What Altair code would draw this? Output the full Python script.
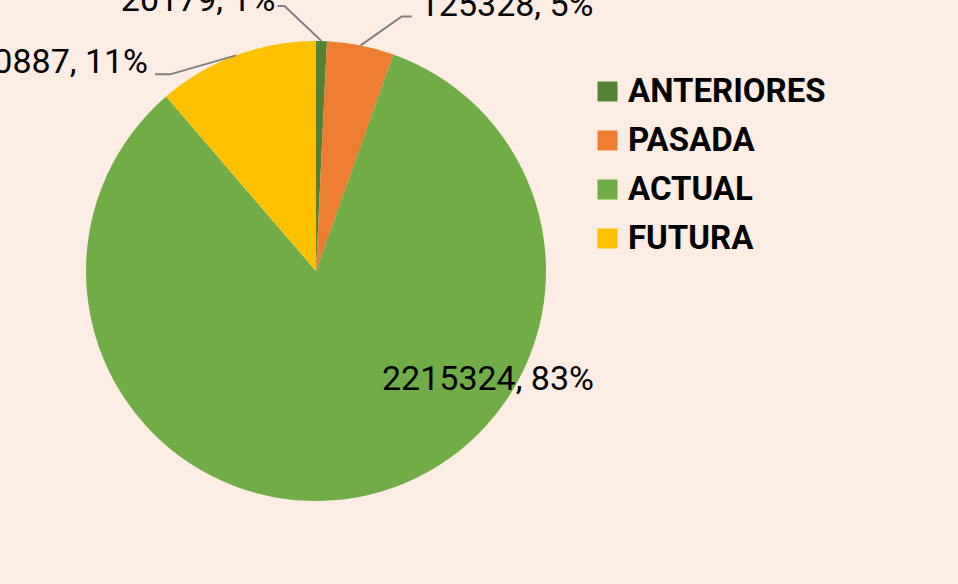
import math
import altair as alt
import pandas as pd

# ---- data ----
categories = ["ANTERIORES", "PASADA", "ACTUAL", "FUTURA"]
values = [20179, 125328, 2215324, 300887]
colors = ["#548235", "#ED7D31", "#70AD47", "#FFC000"]

# ---- layout (pixels) ----
W, H = 958, 584
CX, CY, R = 316, 271, 230
FONT = "Roboto"
BG = "#FBEDE3"

total = sum(values)
df = pd.DataFrame({"cat": categories, "value": values, "idx": range(len(values))})
df["pct"] = df["value"] / total
df["label"] = [f"{v}, {round(p * 100)}%" for v, p in zip(df["value"], df["pct"])]

# mid angle of each slice (clockwise from 12 o'clock), anchor at the rim
cum = df["pct"].cumsum() - df["pct"] / 2
df["mid"] = cum * 2 * math.pi
df["ax"] = CX + R * df["mid"].apply(math.sin)
df["ay"] = CY - R * df["mid"].apply(math.cos)

# label placement relative to the rim anchor (Excel "best fit" style)
place = {
    # cat: (elbow dx, elbow dy, end dx, text dx, text dy, align, leader)
    "ANTERIORES": (-37, -35, -44, -46, -30, "right", True),
    "PASADA": (41, -29, 51, 59, -29, "left", True),
    "FUTURA": (-66, 19, -81, -88, 18, "right", True),
    "ACTUAL": (0, 0, 0, 130, -107, "center", False),
}

txt_rows, line_rows = [], []
for _, r in df.iterrows():
    ex, ey, endx, tdx, tdy, align, leader = place[r["cat"]]
    txt_rows.append({"cat": r["cat"], "label": r["label"], "x": r["ax"] + tdx,
                     "y": r["ay"] + tdy, "align": align})
    if leader:
        pts = [(r["ax"], r["ay"]), (r["ax"] + ex, r["ay"] + ey), (r["ax"] + endx, r["ay"] + ey)]
        for k, (px, py) in enumerate(pts):
            line_rows.append({"cat": r["cat"], "k": k, "x": px, "y": py})

tdf = pd.DataFrame(txt_rows)
ldf = pd.DataFrame(line_rows)

pie = alt.Chart(df).mark_arc(x=CX, y=CY, outerRadius=R, stroke=None).encode(
    theta=alt.Theta("value:Q", stack=True),
    order=alt.Order("idx:Q"),
    color=alt.Color(
        "cat:N",
        scale=alt.Scale(domain=categories, range=colors),
        sort=categories,
        legend=alt.Legend(
            title=None, orient="none", legendX=591, legendY=75,
            symbolType="square", symbolSize=400, symbolStrokeWidth=0,
            labelFont=FONT, labelFontSize=33, labelFontWeight="bold",
            labelColor="#000000", labelOffset=4, rowPadding=15, padding=0,
            labelLimit=400,
        ),
    ),
)

leaders = alt.Chart(ldf).mark_line(color="#7F7F7F", strokeWidth=2).encode(
    x=alt.X("x:Q", scale=None, axis=None),
    y=alt.Y("y:Q", scale=None, axis=None),
    detail="cat:N",
    order="k:Q",
)

def text_layer(align):
    sub = tdf[tdf["align"] == align]
    return alt.Chart(sub).mark_text(
        align=align, baseline="alphabetic", font=FONT, fontSize=34, color="#000000"
    ).encode(
        x=alt.X("x:Q", scale=None, axis=None),
        y=alt.Y("y:Q", scale=None, axis=None),
        text="label:N",
    )

chart = alt.layer(
    pie, leaders, text_layer("right"), text_layer("left"), text_layer("center")
).properties(
    width=W, height=H, autosize=alt.AutoSizeParams(type="none"), padding=0,
    background=BG,
).configure_view(stroke=None, fill=None)

chart.save("out.html", embed_options={"renderer": "svg", "actions": False})
